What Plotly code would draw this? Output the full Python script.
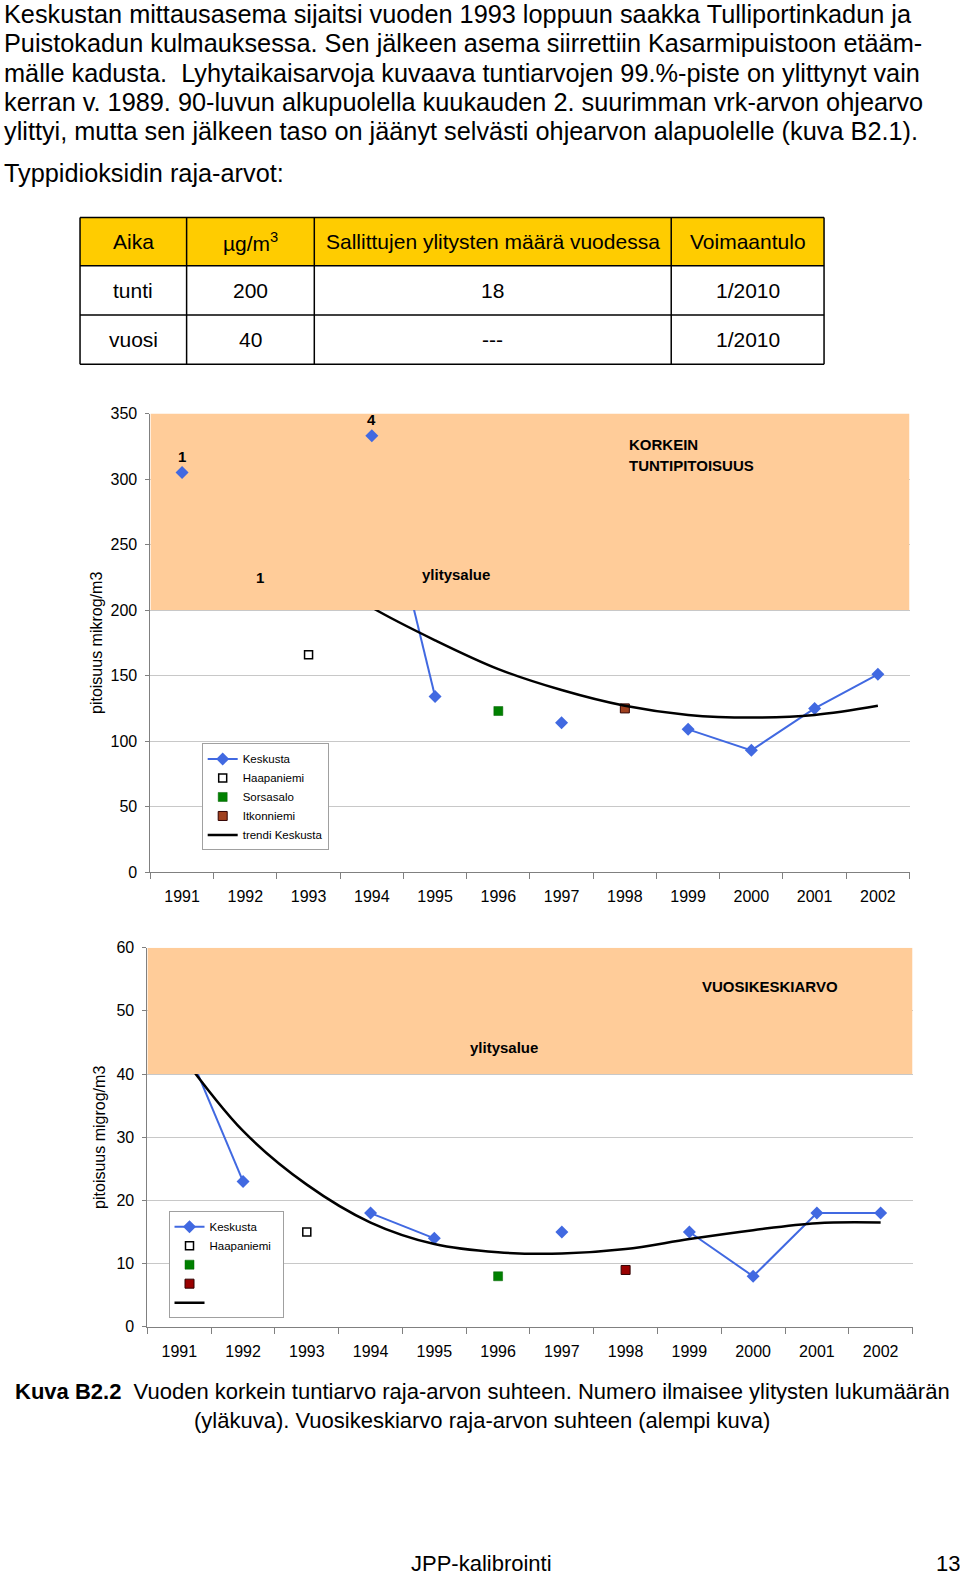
import plotly.graph_objects as go

W, H = 960, 1578
FONT = "Liberation Sans, Arial, sans-serif"

# ---------------- data ----------------
years = [1991, 1992, 1993, 1994, 1995, 1996, 1997, 1998, 1999, 2000, 2001, 2002]
year_labels = [str(y) for y in years]

# top chart: highest hourly value (µg/m3)
kesk_top = [305, None, None, 333, 134, None, 114, None, 109, 93, 125, 151]
haap_top = [None, None, 166, None, None, None, None, None, None, None, None, None]
sors_top = [None, None, None, None, None, 123, None, None, None, None, None, None]
itko_top = [None, None, None, None, None, None, None, 125, None, None, None, None]
trend_top = [309, 268, 233, 202, 177, 155, 139, 127, 120, 118, 120, 127]
limit_top = 200
ymax_top = 350
count_years = [1991, 1994]
count_vals = ["1", "4"]

# bottom chart: annual mean (µg/m3)
kesk_bot = [47, 23, None, 18, 14, None, 15, None, 15, 8, 18, 18]
haap_bot = [None, None, 15, None, None, None, None, None, None, None, None, None]
sors_bot = [None, None, None, None, None, 8, None, None, None, None, None, None]
itko_bot = [None, None, None, None, None, None, None, 9, None, None, None, None]
trend_bot = [43.5, 31, 22.5, 16.5, 13.1, 11.8, 11.6, 12.3, 13.9, 15.3, 16.4, 16.5]
limit_bot = 40
ymax_bot = 60

# table
table_header = ["Aika", "µg/m<sup>3</sup>", "Sallittujen ylitysten määrä vuodessa", "Voimaantulo"]
table_rows = [["tunti", "200", "18", "1/2010"],
              ["vuosi", "40", "---", "1/2010"]]

body_lines = [
    "Keskustan mittausasema sijaitsi vuoden 1993 loppuun saakka Tulliportinkadun ja",
    "Puistokadun kulmauksessa. Sen jälkeen asema siirrettiin Kasarmipuistoon etääm-",
    "mälle kadusta.\u00a0 Lyhytaikaisarvoja kuvaava tuntiarvojen 99.%-piste on ylittynyt vain",
    "kerran v. 1989. 90-luvun alkupuolella kuukauden 2. suurimman vrk-arvon ohjearvo",
    "ylittyi, mutta sen jälkeen taso on jäänyt selvästi ohjearvon alapuolelle (kuva B2.1).",
]
table_title = "Typpidioksidin raja-arvot:"
caption1 = "<b>Kuva B2.2</b>\u00a0 Vuoden korkein tuntiarvo raja-arvon suhteen. Numero ilmaisee ylitysten lukumäärän"
caption2 = "(yläkuva). Vuosikeskiarvo raja-arvon suhteen (alempi kuva)"
footer_left = "JPP-kalibrointi"
footer_right = "13"

# ---------------- helpers (page pixel -> paper fraction, with render calibration) ----------------
X_OFF, X_SC = -0.6, 0.9946
Y_OFF, Y_SC = 6.8, 0.9835

def px(x):
    return ((x - X_OFF) / X_SC) / W

def py(y):
    return 1 - ((y - Y_OFF) / Y_SC) / H

BLUE = "#4169E1"
BAND = "#FFCC99"

fig = go.Figure()

def add_chart(xa, ya, leg, kesk, haap, sors, itko, trend, limit, ymax, names, itko_color, overlay):
    fig.add_trace(go.Scatter(x=years, y=kesk, mode="lines+markers", name=names[0],
                             line=dict(color=BLUE, width=2),
                             marker=dict(symbol="diamond", size=10, color=BLUE),
                             xaxis=xa, yaxis=ya, legend=leg))
    fig.add_trace(go.Scatter(x=years, y=haap, mode="markers", name=names[1],
                             marker=dict(symbol="square", size=8, color="white",
                                         line=dict(color="black", width=1.5)),
                             xaxis=xa, yaxis=ya, legend=leg))
    fig.add_trace(go.Scatter(x=years, y=sors, mode="markers", name=names[2],
                             marker=dict(symbol="square", size=9, color="#008000",
                                         line=dict(color="#006000", width=0.5)),
                             xaxis=xa, yaxis=ya, legend=leg))
    fig.add_trace(go.Scatter(x=years, y=itko, mode="markers", name=names[3],
                             marker=dict(symbol="square", size=9, color=itko_color,
                                         line=dict(color="#300000", width=1)),
                             xaxis=xa, yaxis=ya, legend=leg))
    fig.add_trace(go.Scatter(x=years, y=trend, mode="lines", name=names[4],
                             line=dict(color="black", width=2.5, shape="spline", smoothing=1.0),
                             xaxis=xa, yaxis=ya, legend=leg))
    x0, x1 = years[0] - 0.5, years[-1] + 0.5
    fig.add_trace(go.Scatter(x=[x0, x1, x1, x0, x0], y=[limit, limit, ymax, ymax, limit],
                             mode="lines", fill="toself", fillcolor=BAND,
                             line=dict(width=0, color=BAND), hoverinfo="skip",
                             showlegend=False, xaxis=xa, yaxis=ya))
    if overlay:
        ox = [yr for yr, v in zip(years, kesk) if v is not None and v > limit]
        oy = [v for v in kesk if v is not None and v > limit]
        fig.add_trace(go.Scatter(x=ox, y=oy, mode="markers", showlegend=False,
                                 marker=dict(symbol="diamond", size=10, color=BLUE),
                                 xaxis=xa, yaxis=ya))

add_chart("x", "y", "legend", kesk_top, haap_top, sors_top, itko_top, trend_top,
          limit_top, ymax_top, ["Keskusta", "Haapaniemi", "Sorsasalo", "Itkonniemi", "trendi Keskusta"],
          "#A0401E", True)
add_chart("x2", "y2", "legend2", kesk_bot, haap_bot, sors_bot, itko_bot, trend_bot,
          limit_bot, ymax_bot, ["Keskusta", "Haapaniemi\u00a0\u00a0", " ", " ", " "],
          "#990000", False)

def xaxis_cfg(domain):
    return dict(domain=domain, range=[years[0] - 0.5, years[-1] + 0.5],
                tickmode="array", tickvals=years, ticktext=year_labels, ticks="",
                showgrid=False, zeroline=False, showline=True, linecolor="#808080", linewidth=1,
                tickfont=dict(family=FONT, size=16, color="black"), ticklabelstandoff=10,
                minor=dict(tickmode="linear", tick0=years[0] - 0.5, dtick=1, ticks="outside",
                           ticklen=6, tickcolor="#808080", showgrid=False))

def yaxis_cfg(domain, ymax, dtick, anchor):
    return dict(domain=domain, range=[0, ymax], dtick=dtick, anchor=anchor,
                showgrid=True, gridcolor="#C8C8C8", gridwidth=1, zeroline=False,
                showline=True, linecolor="#808080", linewidth=1,
                ticks="outside", ticklen=4, tickcolor="#808080",
                tickfont=dict(family=FONT, size=16, color="black"), ticklabelstandoff=5)

xa1 = xaxis_cfg([px(149), px(904)]); xa1["anchor"] = "y"
xa2 = xaxis_cfg([px(146), px(907)]); xa2["anchor"] = "y2"

annotations = []
shapes = []

# body text
BODY = 25.3
for i, line in enumerate(body_lines):
    annotations.append(dict(text=line, x=px(1), y=py(13 + 29 * i), xref="paper", yref="paper",
                            xanchor="left", yanchor="middle", showarrow=False,
                            font=dict(family=FONT, size=BODY, color="black")))
annotations.append(dict(text=table_title, x=px(1), y=py(171), xref="paper", yref="paper",
                        xanchor="left", yanchor="middle", showarrow=False,
                        font=dict(family=FONT, size=BODY, color="black")))

# table
col_edges = [79, 185, 312, 667, 819]
row_edges = [215, 263, 312, 361]
shapes.append(dict(type="rect", xref="paper", yref="paper", x0=px(col_edges[0]), x1=px(col_edges[-1]),
                   y0=py(row_edges[0]), y1=py(row_edges[1]), fillcolor="#FFCC00", line=dict(width=0),
                   layer="below"))
for xe in col_edges:
    shapes.append(dict(type="line", xref="paper", yref="paper", x0=px(xe), x1=px(xe),
                       y0=py(row_edges[0]), y1=py(row_edges[-1]), line=dict(color="black", width=1.5)))
for ye in row_edges:
    shapes.append(dict(type="line", xref="paper", yref="paper", x0=px(col_edges[0]), x1=px(col_edges[-1]),
                       y0=py(ye), y1=py(ye), line=dict(color="black", width=1.5)))
all_rows = [table_header] + table_rows
for r, row in enumerate(all_rows):
    yc = (row_edges[r] + row_edges[r + 1]) / 2
    for c, cell in enumerate(row):
        xc = (col_edges[c] + col_edges[c + 1]) / 2
        annotations.append(dict(text=cell, x=px(xc), y=py(yc), xref="paper", yref="paper",
                                xanchor="center", yanchor="middle", showarrow=False,
                                font=dict(family=FONT, size=21, color="black")))

# chart annotations (top)
ann_font = dict(family=FONT, size=15, color="black")
for yr, cnt in zip(count_years, count_vals):
    v = kesk_top[years.index(yr)]
    annotations.append(dict(text="<b>%s</b>" % cnt, x=yr, y=v, xref="x", yref="y", yshift=16,
                            showarrow=False, font=ann_font, yanchor="middle"))
annotations.append(dict(text="<b>1</b>", x=1992.24, y=225, xref="x", yref="y",
                        showarrow=False, font=ann_font))
annotations.append(dict(text="<b>ylitysalue</b>", x=1995.33, y=227, xref="x", yref="y",
                        showarrow=False, font=ann_font))
annotations.append(dict(text="<b>KORKEIN</b>", x=1998.04, y=326, xref="x", yref="y",
                        xanchor="left", showarrow=False, font=ann_font))
annotations.append(dict(text="<b>TUNTIPITOISUUS</b>", x=1998.04, y=310, xref="x", yref="y",
                        xanchor="left", showarrow=False, font=ann_font))
# chart annotations (bottom)
annotations.append(dict(text="<b>VUOSIKESKIARVO</b>", x=2000.26, y=53.8, xref="x2", yref="y2",
                        showarrow=False, font=ann_font))
annotations.append(dict(text="<b>ylitysalue</b>", x=1996.09, y=44.2, xref="x2", yref="y2",
                        showarrow=False, font=ann_font))

# y-axis titles
annotations.append(dict(text="pitoisuus mikrog/m3", x=px(96), y=py(638), xref="paper", yref="paper",
                        xanchor="center", yanchor="middle",
                        textangle=-90, showarrow=False, font=dict(family=FONT, size=16, color="black")))
annotations.append(dict(text="pitoisuus migrog/m3", x=px(99), y=py(1130), xref="paper", yref="paper",
                        xanchor="center", yanchor="middle",
                        textangle=-90, showarrow=False, font=dict(family=FONT, size=16, color="black")))

# caption and footer
annotations.append(dict(text=caption1, x=px(479), y=py(1382), xref="paper", yref="paper",
                        xanchor="center", yanchor="middle", showarrow=False,
                        font=dict(family=FONT, size=22, color="black")))
annotations.append(dict(text=caption2, x=px(479), y=py(1411), xref="paper", yref="paper",
                        xanchor="center", yanchor="middle", showarrow=False,
                        font=dict(family=FONT, size=22, color="black")))
annotations.append(dict(text=footer_left, x=px(406), y=py(1553), xref="paper", yref="paper",
                        xanchor="left", yanchor="middle", showarrow=False,
                        font=dict(family=FONT, size=22, color="black")))
annotations.append(dict(text=footer_right, x=px(956), y=py(1553), xref="paper", yref="paper",
                        xanchor="right", yanchor="middle", showarrow=False,
                        font=dict(family=FONT, size=22, color="black")))

legend_common = dict(bgcolor="white", bordercolor="#A0A0A0", borderwidth=1,
                     font=dict(family=FONT, size=11.5, color="black"),
                     xanchor="left", yanchor="top", tracegroupgap=0, itemwidth=30)

fig.update_layout(
    width=W, height=H, margin=dict(l=0, r=0, t=0, b=0),
    paper_bgcolor="white", plot_bgcolor="white",
    showlegend=True,
    xaxis=xa1,
    yaxis=yaxis_cfg([py(866), py(410)], ymax_top, 50, "x"),
    xaxis2=xa2,
    yaxis2=yaxis_cfg([py(1318), py(941)], ymax_bot, 10, "x2"),
    legend=dict(x=px(200), y=py(738), **legend_common),
    legend2=dict(x=px(167), y=py(1203), **legend_common),
    annotations=annotations,
    shapes=shapes,
    font=dict(family=FONT),
)

fig.write_html(
    "out.html",
    config={"displayModeBar": False, "responsive": False},
    post_script=("document.documentElement.style.margin='0';"
                 "document.documentElement.style.padding='0';"
                 "document.documentElement.style.overflow='hidden';"
                 "document.body.style.margin='0';"
                 "document.body.style.padding='0';"
                 "document.body.style.overflow='hidden';"),
)
